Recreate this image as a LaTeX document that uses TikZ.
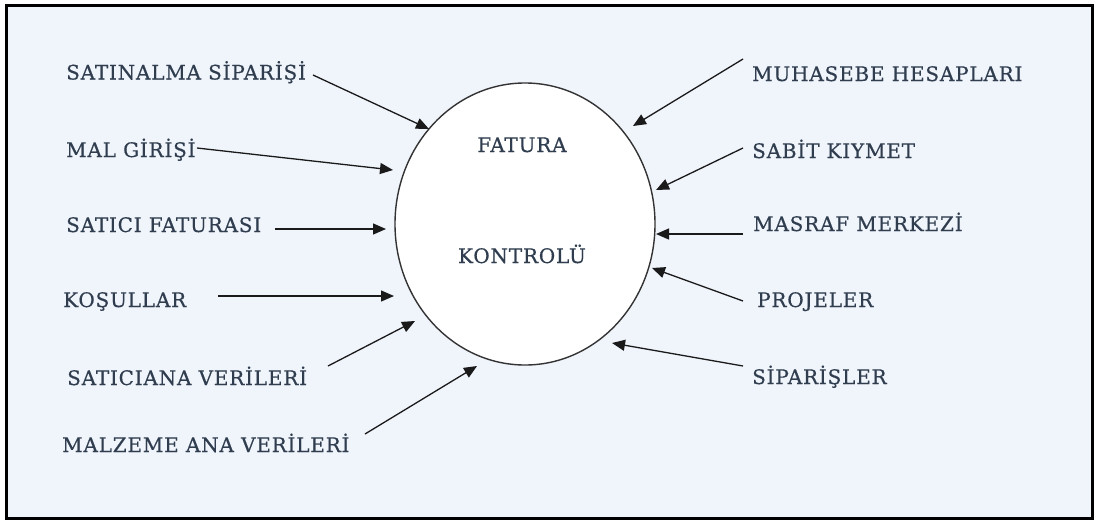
\documentclass[tikz,border=0pt]{standalone}
\usepackage{fontspec}
\usetikzlibrary{arrows.meta,shapes.geometric}
\newfontfamily\lblfont[LetterSpace=4,FakeBold=0.5]{DejaVu Serif}
\definecolor{bgc}{HTML}{F0F4FB}
\definecolor{txtc}{HTML}{2F3D4F}
\definecolor{linec}{HTML}{1A1A1A}
\tikzset{
  lbl/.style={anchor=base west, inner sep=0pt, text=txtc, font=\lblfont\fontsize{20}{23}\selectfont},
  ctr/.style={anchor=base, inner sep=0pt, text=txtc, font=\lblfont\fontsize{20}{23}\selectfont},
  arr/.style={draw=linec, line width=1.3pt, -{Triangle[length=13pt,width=11pt]}},
  frame/.style={draw=black, line width=3pt, fill=bgc}
}
\begin{document}
\begin{tikzpicture}[x=1pt,y=-1pt]
\useasboundingbox (0,0) rectangle (1097,523);
\fill[white] (0,0) rectangle (1097,523);
\draw[frame] (6,5.5) rectangle (1092,518.5);
\node[draw=black!80, line width=1.4pt, fill=white, ellipse, minimum width=260pt, minimum height=282pt, inner sep=0pt] (proc) at (525,224) {};
\node[ctr] (t1) at (522,152) {FATURA};
\node[ctr] (t2) at (522,263) {KONTROLÜ};
% left labels
\node[lbl] (l1) at (66,79.5) {SATINALMA SİPARİŞİ};
\node[lbl] (l2) at (66,157) {MAL GİRİŞİ};
\node[lbl] (l3) at (66,232) {SATICI FATURASI};
\node[lbl] (l4) at (63,307) {KOŞULLAR};
\node[lbl] (l5) at (67,385) {SATICIANA VERİLERİ};
\node[lbl] (l6) at (62,452) {MALZEME ANA VERİLERİ};
% right labels
\node[lbl] (r1) at (752,81) {MUHASEBE HESAPLARI};
\node[lbl] (r2) at (752,158) {SABİT KIYMET};
\node[lbl] (r3) at (753,231) {MASRAF MERKEZİ};
\node[lbl] (r4) at (757,307) {PROJELER};
\node[lbl] (r5) at (752,384) {SİPARİŞLER};
% arrow start coordinates
\coordinate (l1s) at (313,75);
\coordinate (l2s) at (197,148);
\coordinate (l3s) at (275,229);
\coordinate (l4s) at (218,296);
\coordinate (l5s) at (328,366);
\coordinate (l6s) at (365,434);
\coordinate (r1s) at (743,59);
\coordinate (r2s) at (743,148);
\coordinate (r3s) at (743,234);
\coordinate (r4s) at (743,301);
\coordinate (r5s) at (743,366);
% arrow tips
\coordinate (l1t) at (429,129);
\coordinate (l2t) at (393,170);
\coordinate (l3t) at (386,229);
\coordinate (l4t) at (394,296);
\coordinate (l5t) at (415,321);
\coordinate (l6t) at (477,366);
\coordinate (r1t) at (633,126);
\coordinate (r2t) at (656,190);
\coordinate (r3t) at (656,234);
\coordinate (r4t) at (652,268);
\coordinate (r5t) at (612,343);
\foreach \a in {l1,l2,l3,l4,l5,l6,r1,r2,r3,r4,r5}{
  \draw[arr] (\a s) -- (\a t);
}
\end{tikzpicture}
\end{document}
